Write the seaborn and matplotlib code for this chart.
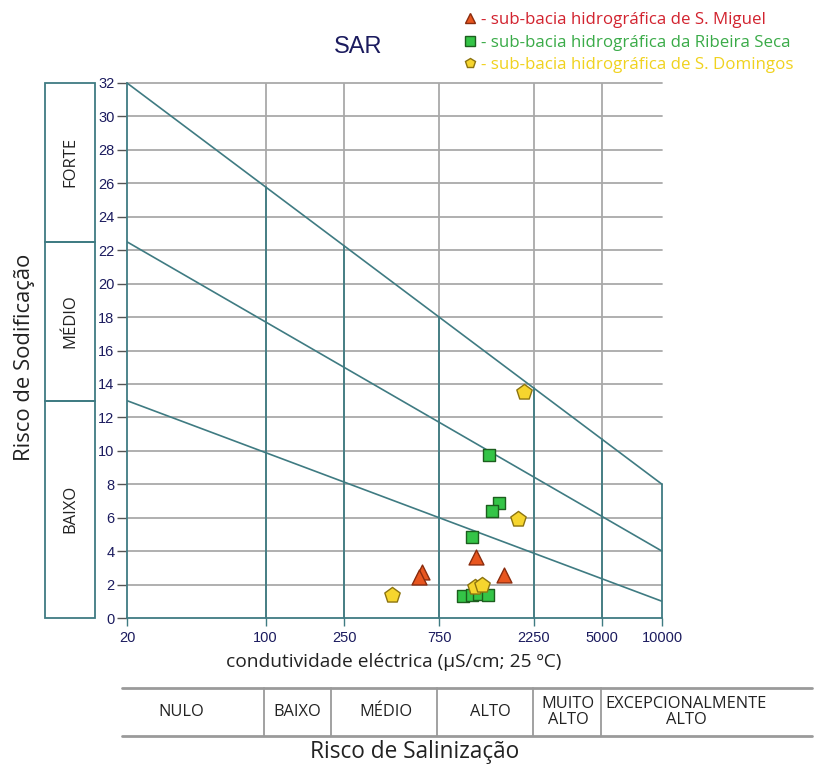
import numpy as np
import pandas as pd
import matplotlib
matplotlib.use("Agg")
import matplotlib.pyplot as plt
import matplotlib.transforms as mtransforms
from matplotlib.lines import Line2D
from matplotlib.patches import Rectangle
import seaborn as sns

# ---- data ---------------------------------------------------------------
miguel_ec = [1153, 1597, 618, 595]
miguel_sar = [3.67, 2.57, 2.77, 2.47]

ribeira_ec = [1346, 1506, 1393, 1097, 995, 1097, 1198, 1321]
ribeira_sar = [9.73, 6.86, 6.38, 4.84, 1.32, 1.38, 1.44, 1.36]

domingos_ec = [2021, 1884, 433, 1140, 1232]
domingos_sar = [13.53, 5.92, 1.38, 1.87, 2.0]

# sodium-hazard boundary lines (SAR at EC = 20 and EC = 10000)
line_ec = [20, 10000]
line_top = [32, 8]
line_mid = [22.5, 4]
line_low = [13, 1]

# salinity class limits (uS/cm)
ec_limits = [100, 250, 750, 2250, 5000, 10000]
x_ticks = [20, 100, 250, 750, 2250, 5000, 10000]
y_ticks = list(range(0, 33, 2))

sodium_classes = ["FORTE", "MÉDIO", "BAIXO"]
sodium_bounds = [32, 22.5, 13, 0]

salinity_classes = ["NULO", "BAIXO", "MÉDIO", "ALTO", "MUITO\nALTO", "EXCEPCIONALMENTE\nALTO"]

legend_labels = ["- sub-bacia hidrográfica de S. Miguel",
                 "- sub-bacia hidrográfica da Ribeira Seca",
                 "- sub-bacia hidrográfica de S. Domingos"]

# ---- styling ------------------------------------------------------------
sns.set_theme(style="white")
plt.rcParams["font.family"] = ["Open Sans", "DejaVu Sans"]

TEAL = "#3f7b82"
GRID = "#a9a9a9"
NAVY = "#1b1b5e"

fig = plt.figure(figsize=(8.14, 7.69), dpi=100)
W, H = 814, 769
ax = fig.add_axes([127 / W, 1 - 618 / H, (662 - 127) / W, (618 - 83) / H])
ax.set_xscale("log")
ax.set_xlim(20, 10000)
ax.set_ylim(0, 32)

# grid: horizontal every 2 units and vertical at class limits
for yv in y_ticks[1:]:
    ax.axhline(yv, color=GRID, lw=1.3, zorder=1, clip_on=False)
for xv in ec_limits[:-1]:
    ax.axvline(xv, color=GRID, lw=1.3, zorder=1)


def top_line(x):
    f = (np.log10(x) - np.log10(line_ec[0])) / (np.log10(line_ec[1]) - np.log10(line_ec[0]))
    return line_top[0] + (line_top[1] - line_top[0]) * f


# class limits drawn in teal below the upper boundary line
for xv in ec_limits:
    ax.plot([xv, xv], [0, top_line(xv)], color=TEAL, lw=1.3, zorder=2, clip_on=False)

# boundary lines
xs = np.logspace(np.log10(line_ec[0]), np.log10(line_ec[1]), 50)
for ys in (line_top, line_mid, line_low):
    yy = np.interp(np.log10(xs), np.log10(line_ec), ys)
    sns.lineplot(x=xs, y=yy, ax=ax, color=TEAL, lw=1.2, zorder=3)

# samples
groups = [
    (miguel_ec, miguel_sar, "^", "#e8561f", "#8a2c0e", 115),
    (ribeira_ec, ribeira_sar, "s", "#34c447", "#1c5e1e", 70),
    (domingos_ec, domingos_sar, "p", "#f6d52e", "#8c7410", 135),
]
for ec, sar, mk, fc, ecl, s in groups:
    df = pd.DataFrame({"ec": ec, "sar": sar})
    sns.scatterplot(data=df, x="ec", y="sar", ax=ax, marker=mk, color=fc,
                    edgecolor=ecl, linewidth=1.0, s=s, zorder=5, clip_on=False)

ax.set_xlabel("")
ax.set_ylabel("")
for side in ("top", "right"):
    ax.spines[side].set_visible(False)
ax.spines["left"].set_color(TEAL)
ax.spines["bottom"].set_color(TEAL)
ax.spines["left"].set_linewidth(1.3)
ax.spines["bottom"].set_linewidth(1.3)

ax.set_xticks(x_ticks)
ax.set_xticklabels([str(v) for v in x_ticks])
ax.minorticks_off()
ax.set_yticks(y_ticks)
ax.tick_params(axis="y", direction="out", length=7, width=1, color="#555555",
               labelsize=10.5, labelcolor=NAVY, pad=2, left=True)
ax.tick_params(axis="x", direction="out", length=6, width=1, color=TEAL,
               labelsize=10.5, labelcolor=NAVY, pad=3, bottom=True)
for lab in ax.get_xticklabels() + ax.get_yticklabels():
    lab.set_family(["Liberation Sans", "DejaVu Sans"])

# title
fig.text(358 / W, 1 - 47 / H, "SAR", ha="center", va="center", fontsize=17,
         color=NAVY, family=["Liberation Sans", "DejaVu Sans"])

# sodium hazard boxes on the left
trans = mtransforms.blended_transform_factory(fig.transFigure, ax.transData)
bx0, bx1 = 45 / W, 95 / W
for name, top, bot in zip(sodium_classes, sodium_bounds[:-1], sodium_bounds[1:]):
    ax.add_patch(Rectangle((bx0, bot), bx1 - bx0, top - bot, transform=trans,
                           fill=False, edgecolor=TEAL, lw=1.3, clip_on=False))
    ax.text((bx0 + bx1) / 2, (top + bot) / 2, name, transform=trans, rotation=90,
            ha="center", va="center", fontsize=12, color="#222222")

fig.text(25 / W, 1 - 357 / H, "Risco de Sodificação", rotation=90, ha="center",
         va="center", fontsize=15.8, color="#222222")
fig.text(394 / W, 1 - 662 / H, "condutividade eléctrica (μS/cm; 25 ºC)", ha="center",
         va="center", fontsize=13.8, color="#222222")

# salinity hazard table
t_top, t_bot = 1 - 688 / H, 1 - 736 / H
fig.add_artist(Line2D([122 / W, 812 / W], [t_top, t_top], color="#9a9a9a", lw=2))
fig.add_artist(Line2D([122 / W, 812 / W], [t_bot, t_bot], color="#9a9a9a", lw=2))
for xp in [264, 331, 437, 533, 601]:
    fig.add_artist(Line2D([xp / W, xp / W], [t_top, t_bot], color="#9a9a9a", lw=1.3))
label_x = [181, 297, 386, 490, 568, 686]
for name, xp in zip(salinity_classes, label_x):
    fig.text(xp / W, (t_top + t_bot) / 2, name, ha="center", va="center",
             fontsize=11.8, color="#222222", linespacing=1.05)

fig.text(415 / W, 1 - 752 / H, "Risco de Salinização", ha="center", va="center",
         fontsize=16.3, color="#222222")

# legend
handles = [Line2D([], [], ls="", marker=g[2], markerfacecolor=g[3],
                  markeredgecolor=g[4], markersize=7.5) for g in groups]
fig.legend(handles, legend_labels, loc="upper left",
           bbox_to_anchor=(452 / W, 1 - 0 / H), frameon=False, fontsize=12.2,
           labelcolor=["#d2232f", "#3aab48", "#f0d21e"], handlelength=0.7,
           handletextpad=0.3, labelspacing=0.4, borderpad=0.2)

fig.savefig("out.png", dpi=100)
